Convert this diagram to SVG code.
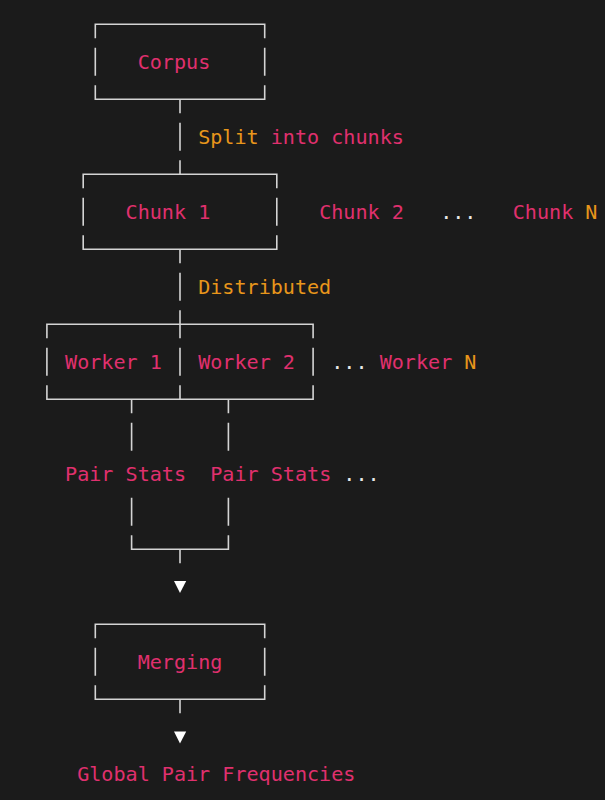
<svg xmlns="http://www.w3.org/2000/svg" width="605" height="800" viewBox="0 0 605 800">
<style>
text{font-family:"DejaVu Sans Mono","Liberation Mono",monospace;font-size:20.1px;white-space:pre}
.p{fill:#e0306e}
.o{fill:#e8961b}
.w{fill:#e8e8e8}
.ln{stroke:#d4d4d4;stroke-width:1.6;fill:none}
.ar{fill:#ffffff}
</style>
<rect width="605" height="800" fill="#1b1b1b"/>
<g id="corpus">
<path class="ln" d="M95.3,38.2V24.2H264.7V38.2M95.3,47.7V75.7M264.7,47.7V75.7M95.3,85.2V99.2H264.7V85.2"/>
<text class="p" x="137.65" y="68.7">Corpus</text>
</g>
<g id="chunk1">
<path class="ln" d="M83.2,188.2V174.2H276.8V188.2M83.2,197.7V225.7M276.8,197.7V225.7M83.2,235.2V249.2H276.8V235.2"/>
<text class="p" x="125.55" y="218.7">Chunk 1</text>
</g>
<g id="chunk-others">
<text class="p" x="319.15" y="218.7">Chunk 2</text>
<text class="w" x="440.15" y="218.7">...</text>
<text class="p" x="512.75" y="218.7">Chunk</text>
<text class="o" x="585.35" y="218.7">N</text>
</g>
<g id="workers">
<path class="ln" d="M46.9,338.2V324.2H313.1V338.2M46.9,347.7V375.7M180,347.7V375.7M313.1,347.7V375.7M46.9,385.2V399.2H313.1V385.2M180,385.2V399.2"/>
<text class="p" x="65.05" y="368.7">Worker 1</text>
<text class="p" x="198.15" y="368.7">Worker 2</text>
<text class="w" x="331.25" y="368.7">...</text>
<text class="p" x="379.65" y="368.7">Worker</text>
<text class="o" x="464.35" y="368.7">N</text>
</g>
<g id="pair-stats">
<text class="p" x="65.05" y="481.2">Pair Stats</text>
<text class="p" x="210.25" y="481.2">Pair Stats</text>
<text class="w" x="343.35" y="481.2">...</text>
</g>
<g id="merging">
<path class="ln" d="M95.3,638.2V624.2H264.7V638.2M95.3,647.7V675.7M264.7,647.7V675.7M95.3,685.2V699.2H264.7V685.2"/>
<text class="p" x="137.65" y="668.7">Merging</text>
</g>
<g id="global">
<text class="p" x="77.15" y="781.2">Global Pair Frequencies</text>
</g>
<g id="connectors">
<path class="ln" d="M180,99.2V113.2M180,122.7V150.7M180,160.2V174.2"/>
<text class="o" x="198.15" y="143.7">Split</text>
<text class="p" x="270.75" y="143.7">into chunks</text>
<path class="ln" d="M180,249.2V263.2M180,272.7V300.7M180,310.2V338.2"/>
<text class="o" x="198.15" y="293.7">Distributed</text>
<path class="ln" d="M131.6,399.2V413.2M228.4,399.2V413.2M131.6,422.7V450.7M228.4,422.7V450.7M131.6,497.7V525.7M228.4,497.7V525.7M131.6,535.2V549.2H228.4V535.2M180,549.2V563.2"/>
<path class="ar" d="M174,581H186.2L180,593Z"/>
<path class="ln" d="M180,699.2V713.2"/>
<path class="ar" d="M174,731.5H186.2L180,743.5Z"/>
</g>
</svg>
